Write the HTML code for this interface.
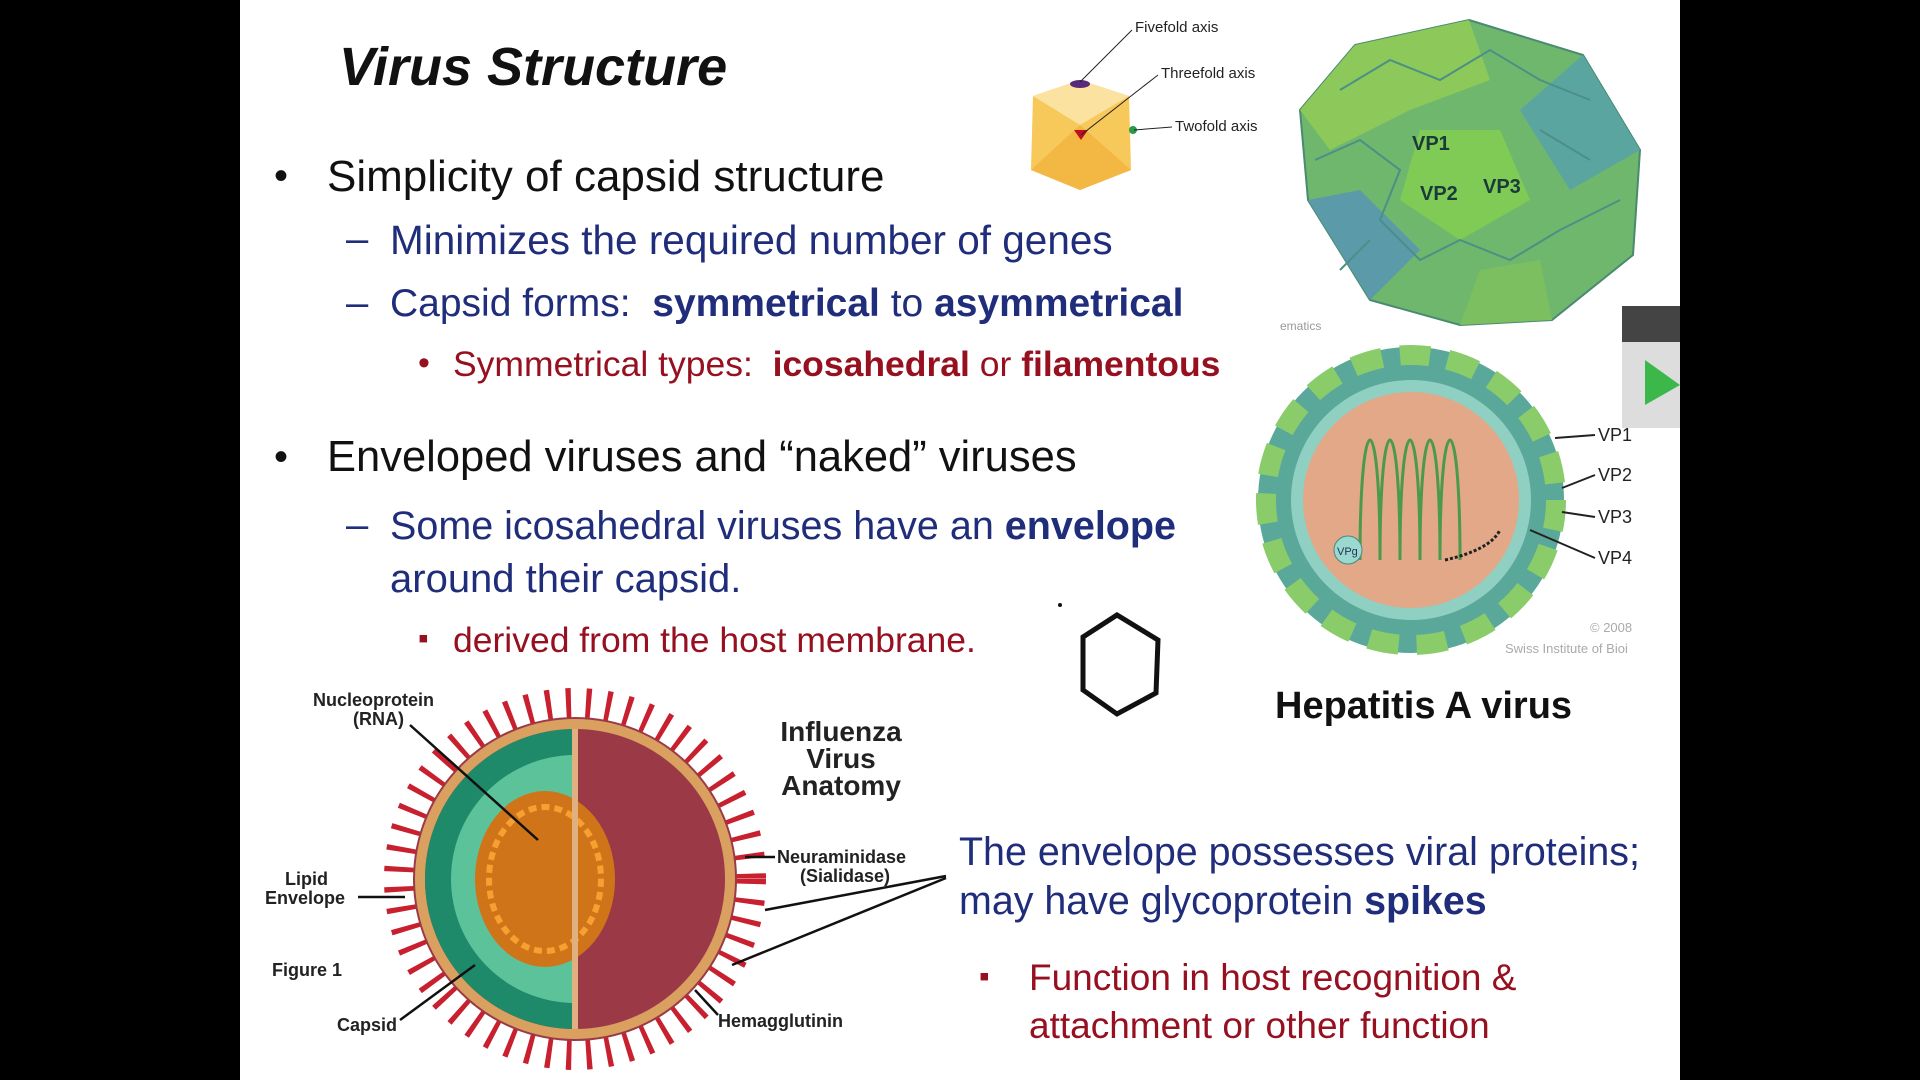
<!DOCTYPE html>
<html><head><meta charset="utf-8"><style>
html,body{margin:0;padding:0;width:1920px;height:1080px;overflow:hidden;background:#000}
#slide{position:absolute;left:240px;top:0;width:1440px;height:1080px;background:#fff;overflow:hidden}
.t{position:absolute;white-space:nowrap;font-family:"Liberation Sans",sans-serif}
.blue{color:#1f2d7b}.red{color:#961020}
svg{position:absolute;left:0;top:0}
</style></head><body>
<div id="slide">
<div class="t" style="left:99px;top:36px;font-size:54px;font-weight:bold;font-style:italic;color:#111">Virus Structure</div>
<div class="t" style="left:34px;top:154px;font-size:40px;color:#111">•</div>
<div class="t" style="left:87px;top:152px;font-size:44px;color:#111">Simplicity of capsid structure</div>
<div class="t blue" style="left:106px;top:217px;font-size:40px">–</div>
<div class="t blue" style="left:150px;top:217px;font-size:40.5px">Minimizes the required number of genes</div>
<div class="t blue" style="left:106px;top:281px;font-size:40px">–</div>
<div class="t blue" style="left:150px;top:282px;font-size:39px">Capsid forms:&nbsp; <b>symmetrical</b> to <b>asymmetrical</b></div>
<div class="t red" style="left:178px;top:344px;font-size:34px">•</div>
<div class="t red" style="left:213px;top:344px;font-size:35.5px">Symmetrical types:&nbsp; <b>icosahedral</b> or <b>filamentous</b></div>
<div class="t" style="left:34px;top:435px;font-size:40px;color:#111">•</div>
<div class="t" style="left:87px;top:433px;font-size:43.5px;color:#111">Enveloped viruses and “naked” viruses</div>
<div class="t blue" style="left:106px;top:503px;font-size:40px">–</div>
<div class="t blue" style="left:150px;top:504px;font-size:39.5px">Some icosahedral viruses have an <b>envelope</b></div>
<div class="t blue" style="left:150px;top:557px;font-size:40px">around their capsid.</div>
<div class="t red" style="left:178px;top:622px;font-size:30px">▪</div>
<div class="t red" style="left:213px;top:620px;font-size:35.5px">derived from the host membrane.</div>
<div class="t" style="left:1035px;top:685px;font-size:38px;font-weight:bold;color:#111">Hepatitis A virus</div>
<div class="t blue" style="left:719px;top:830px;font-size:39.4px">The envelope possesses viral proteins;</div>
<div class="t blue" style="left:719px;top:879px;font-size:39.4px">may have glycoprotein <b>spikes</b></div>
<div class="t red" style="left:739px;top:960px;font-size:30px">▪</div>
<div class="t red" style="left:789px;top:957px;font-size:37px">Function in host recognition &amp;</div>
<div class="t red" style="left:789px;top:1005px;font-size:37px">attachment or other function</div>

<svg width="1440" height="1080" font-family="Liberation Sans, sans-serif">
 <g>
  <polygon points="793,96 840,80 889,96 891,170 840,190 791,170" fill="#f7c85a"/>
  <polygon points="793,96 840,80 889,96 840,125" fill="#fbe2a0"/>
  <polygon points="840,125 791,170 840,190 891,170" fill="#f3b743"/>
  <ellipse cx="840" cy="84" rx="10" ry="4" fill="#5a2a7a"/>
  <polygon points="834,130 848,130 841,140" fill="#c01020"/>
  <circle cx="893" cy="130" r="4" fill="#2a9a4a"/>
  <line x1="840" y1="82" x2="892" y2="30" stroke="#222"/>
  <line x1="841" y1="135" x2="918" y2="75" stroke="#222"/>
  <line x1="894" y1="130" x2="932" y2="127" stroke="#222"/>
  <text x="895" y="32" font-size="15" fill="#222">Fivefold axis</text>
  <text x="921" y="78" font-size="15" fill="#222">Threefold axis</text>
  <text x="935" y="131" font-size="15" fill="#222">Twofold axis</text>
 </g>
 <g>
  <polygon points="1229,20 1343,55 1400,150 1393,255 1312,320 1220,325 1130,300 1068,200 1060,110 1115,45" fill="#6fb76d" stroke="#4a8a70" stroke-width="2"/>
  <polygon points="1115,45 1229,20 1250,80 1170,110 1090,150 1060,110" fill="#8cc95a"/>
  <polygon points="1343,55 1400,150 1330,190 1280,110" fill="#5aa5a0"/>
  <polygon points="1068,200 1130,300 1180,250 1120,190" fill="#5b9aa8"/>
  <polygon points="1220,325 1312,320 1300,260 1240,270" fill="#7cbf60"/>
  <polygon points="1180,130 1260,130 1290,200 1220,240 1160,200" fill="#7fcb55"/>
  <g fill="none" stroke="#4c8f86" stroke-width="2">
   <polyline points="1100,90 1150,60 1200,80 1250,50 1300,80 1350,100"/>
   <polyline points="1075,160 1120,140 1160,170 1140,220 1180,260 1220,240 1270,260 1320,230 1380,200"/>
   <polyline points="1130,240 1100,270"/><polyline points="1300,130 1350,160"/>
  </g>
  <text x="1172" y="150" font-size="20" font-weight="bold" fill="#1b3a3a">VP1</text>
  <text x="1180" y="200" font-size="20" font-weight="bold" fill="#1b3a3a">VP2</text>
  <text x="1243" y="193" font-size="20" font-weight="bold" fill="#1b3a3a">VP3</text>
  <text x="1040" y="330" font-size="12" fill="#999">ematics</text>
 </g>
 <g>
  <circle cx="1171" cy="500" r="153" fill="#5aa89a"/>
  <circle cx="1171" cy="500" r="145" fill="none" stroke="#8acb6a" stroke-width="20" stroke-dasharray="30 18"/>
  <circle cx="1171" cy="500" r="120" fill="#8fd0c2"/>
  <circle cx="1171" cy="500" r="108" fill="#e2a888"/>
  <path d="M1120,560 C1120,400 1140,400 1140,560 C1140,400 1160,400 1160,560 C1160,400 1180,400 1180,560 C1180,400 1200,400 1200,560 C1200,400 1220,400 1220,560" fill="none" stroke="#4a9a4a" stroke-width="3"/>
  <path d="M1205,560 Q1250,550 1260,530" fill="none" stroke="#222" stroke-width="3" stroke-dasharray="3 2"/>
  <circle cx="1108" cy="550" r="14" fill="#9ad8d0" stroke="#4a8a80"/>
  <text x="1097" y="555" font-size="11" fill="#235">VPg</text>
  <g stroke="#222" stroke-width="2">
   <line x1="1315" y1="438" x2="1355" y2="435"/><line x1="1322" y1="488" x2="1355" y2="475"/>
   <line x1="1322" y1="512" x2="1355" y2="517"/><line x1="1290" y1="530" x2="1355" y2="558"/>
  </g>
  <text x="1358" y="441" font-size="18" fill="#222">VP1</text>
  <text x="1358" y="481" font-size="18" fill="#222">VP2</text>
  <text x="1358" y="523" font-size="18" fill="#222">VP3</text>
  <text x="1358" y="564" font-size="18" fill="#222">VP4</text>
  <text x="1350" y="632" font-size="13" fill="#aaa">© 2008</text>
  <text x="1265" y="653" font-size="13" fill="#aaa">Swiss Institute of Bioi</text>
 </g>
 <g>
  <rect x="1382" y="306" width="58" height="36" fill="#444"/>
  <rect x="1382" y="342" width="58" height="86" fill="#ddd"/>
  <polygon points="1405,360 1440,385 1405,405" fill="#3cb84a"/>
 </g>
 <polygon points="843,637 877,615 918,640 916,693 877,714 843,690" fill="none" stroke="#111" stroke-width="5"/>
 <circle cx="820" cy="605" r="2" fill="#111"/>
 <g>
  <circle cx="335" cy="879" r="176" fill="none" stroke="#c8202e" stroke-width="30" stroke-dasharray="5 15"/>
  <circle cx="335" cy="879" r="162" fill="#9b3a46"/>
  <circle cx="335" cy="879" r="155" fill="none" stroke="#d9a060" stroke-width="10"/>
  <path d="M335,729 A150,150 0 0 0 335,1029 Z" fill="#1f8a6a"/>
  <path d="M335,755 A124,124 0 0 0 335,1003 Z" fill="#5cc29a"/>
  <ellipse cx="305" cy="879" rx="70" ry="88" fill="#d0741a"/>
  <ellipse cx="305" cy="879" rx="56" ry="72" fill="none" stroke="#f5a030" stroke-width="6" stroke-dasharray="8 5"/>
  <line x1="335" y1="729" x2="335" y2="1029" stroke="#e0b080" stroke-width="6"/>
  <g fill="#222" font-weight="bold" font-size="18">
   <text x="73" y="706">Nucleoprotein</text><text x="113" y="725">(RNA)</text>
   <text x="45" y="885">Lipid</text><text x="25" y="904">Envelope</text>
   <text x="32" y="976">Figure 1</text>
   <text x="97" y="1031">Capsid</text>
   <text x="537" y="863">Neuraminidase</text><text x="560" y="882">(Sialidase)</text>
   <text x="478" y="1027">Hemagglutinin</text>
  </g>
  <g fill="#222" font-weight="bold" font-size="28" text-anchor="middle">
   <text x="601" y="741">Influenza</text><text x="601" y="768">Virus</text><text x="601" y="795">Anatomy</text>
  </g>
  <g stroke="#111" stroke-width="2.5">
   <line x1="170" y1="725" x2="298" y2="840"/><line x1="118" y1="897" x2="165" y2="897"/>
   <line x1="160" y1="1020" x2="235" y2="965"/><line x1="535" y1="857" x2="505" y2="857"/>
   <line x1="706" y1="876" x2="525" y2="910"/><line x1="706" y1="878" x2="492" y2="965"/>
   <line x1="478" y1="1015" x2="455" y2="990"/>
  </g>
 </g>
</svg>
</div>
</body></html>
